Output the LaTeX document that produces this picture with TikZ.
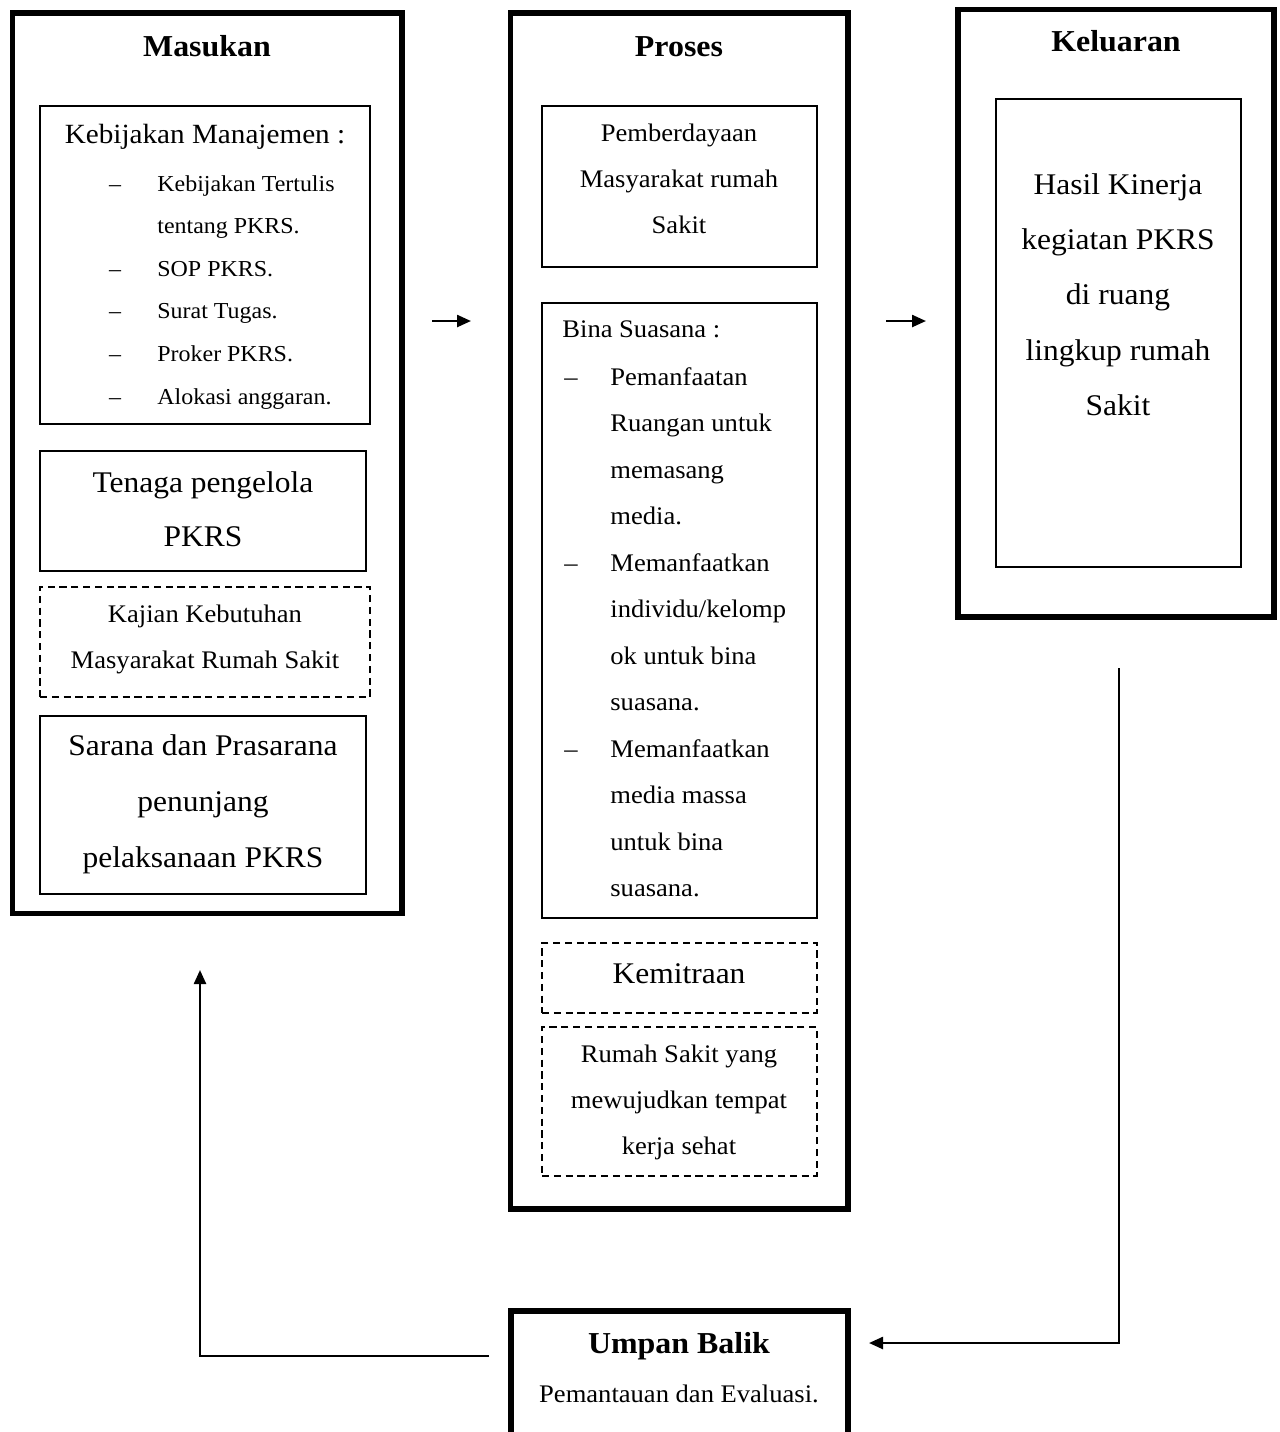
\documentclass[tikz,border=0pt]{standalone}
\usepackage{fontspec}
\setmainfont{Liberation Serif}[FakeStretch=1.05]
\usetikzlibrary{arrows.meta,fit}

\begin{document}
\begin{tikzpicture}[x=0.5pt,y=-0.5pt,
  frame/.style={draw, line width=2.6pt, inner sep=0pt},
  box/.style={draw, line width=0.9pt, inner sep=0pt},
  dbox/.style={box, dash pattern=on 3.6pt off 2.3pt},
  ttl/.style={font=\fontsize{15.2}{18}\selectfont\bfseries, anchor=base, inner sep=0pt},
  bigtxt/.style={font=\fontsize{15}{27.5}\selectfont, align=center, anchor=base, inner sep=0pt},
  medtxt/.style={font=\fontsize{12.65}{23}\selectfont, align=center, anchor=base, inner sep=0pt},
  smalltxt/.style={font=\fontsize{11.4}{21.3}\selectfont, align=left, anchor=base west, inner sep=0pt},
  dashmark/.style={anchor=base, inner sep=0pt},
  arr/.style={line width=1.2pt, -{Triangle[length=7pt,width=6pt]}}
]
\useasboundingbox (0,0) rectangle (1280,1432);
\fill[white] (0,0) rectangle (1280,1432);
% multi-line text nodes are placed by the baseline of their last line

% ---------- Masukan ----------
\node[frame, fit={(12.5,13) (402,913.5)}] (masukan) {};
\node[ttl] (tMas) at (207,56) {Masukan};

\node[box, fit={(40,106) (370,424)}] (kebijakan) {};
\node[font=\fontsize{13.9}{18}\selectfont, anchor=base, inner sep=0pt] (hKeb) at (205,143) {Kebijakan Manajemen :};
\node[smalltxt] (lKeb) at (157,404) {Kebijakan Tertulis\\tentang PKRS.\\SOP PKRS.\\Surat Tugas.\\Proker PKRS.\\Alokasi anggaran.};
\foreach \yy [count=\i] in {191,276.2,318.8,361.4,404}
  \node[dashmark, font=\fontsize{11.4}{14}\selectfont] (kd\i) at (115,\yy) {–};

\node[box, fit={(40,451) (366,571)}] (tenaga) {};
\node[bigtxt, font=\fontsize{15}{27}\selectfont] (tTen) at (203,546) {Tenaga pengelola\\PKRS};

\node[dbox, fit={(40,587) (370,697)}] (kajian) {};
\node[medtxt] (tKaj) at (205,668) {Kajian Kebutuhan\\Masyarakat Rumah Sakit};

\node[box, fit={(40,716) (366,894)}] (sarana) {};
\node[bigtxt, font=\fontsize{15}{28}\selectfont] (tSar) at (203,867) {Sarana dan Prasarana\\penunjang\\pelaksanaan PKRS};

% ---------- Proses ----------
\node[frame, fit={(510.5,13) (848,1209)}] (proses) {};
\node[ttl] (tPro) at (679,56) {Proses};

\node[box, fit={(542,106) (817,267)}] (pemberdayaan) {};
\node[medtxt] (tPem) at (679,233) {Pemberdayaan\\Masyarakat rumah\\Sakit};

\node[box, fit={(542,303) (817,918)}] (bina) {};
\node[medtxt, anchor=base west] (hBina) at (562,337) {Bina Suasana :};
\node[medtxt, align=left, anchor=base west, font=\fontsize{12.65}{23.25}\selectfont] (lBina) at (610,896.5)
  {Pemanfaatan\\Ruangan untuk\\memasang\\media.\\Memanfaatkan\\individu/kelomp\\ok untuk bina\\suasana.\\Memanfaatkan\\media massa\\untuk bina\\suasana.};
\foreach \yy [count=\i] in {385,571,757}
  \node[dashmark, font=\fontsize{12.65}{14}\selectfont] (bd\i) at (571,\yy) {–};

\node[dbox, fit={(542,943) (817,1013)}] (kemitraan) {};
\node[bigtxt] (tKem) at (679,983) {Kemitraan};

\node[dbox, fit={(542,1027) (817,1176)}] (tempat) {};
\node[medtxt] (tTem) at (679,1154) {Rumah Sakit yang\\mewujudkan tempat\\kerja sehat};

% ---------- Keluaran ----------
\node[frame, fit={(958,9.5) (1274,617)}] (keluaran) {};
\node[ttl] (tKel) at (1116,51) {Keluaran};

\node[box, fit={(996,99) (1241,567)}] (hasil) {};
\node[bigtxt, font=\fontsize{15}{27.7}\selectfont] (tHas) at (1118,415.6) {Hasil Kinerja\\kegiatan PKRS\\di ruang\\lingkup rumah\\Sakit};

% ---------- Umpan Balik ----------
\node[frame, fit={(511,1311) (848,1460)}] (umpan) {};
\node[ttl] (tUmp) at (679,1353) {Umpan Balik};
\node[medtxt] (tEva) at (679,1402) {Pemantauan dan Evaluasi.};

% ---------- connectors ----------
\coordinate (mpS) at (432,321);
\coordinate (mpE) at (471,321);
\draw[arr] (mpS) -- (mpE);

\coordinate (pkS) at (886,321);
\coordinate (pkE) at (926,321);
\draw[arr] (pkS) -- (pkE);

\coordinate (fbR) at (1119,668);
\coordinate (fbRend) at (869,1343);
\draw[arr] (fbR) |- (fbRend);

\coordinate (fbL) at (489,1356);
\coordinate (fbLend) at (200,970);
\draw[arr] (fbL) -| (fbLend);
\end{tikzpicture}
\end{document}
